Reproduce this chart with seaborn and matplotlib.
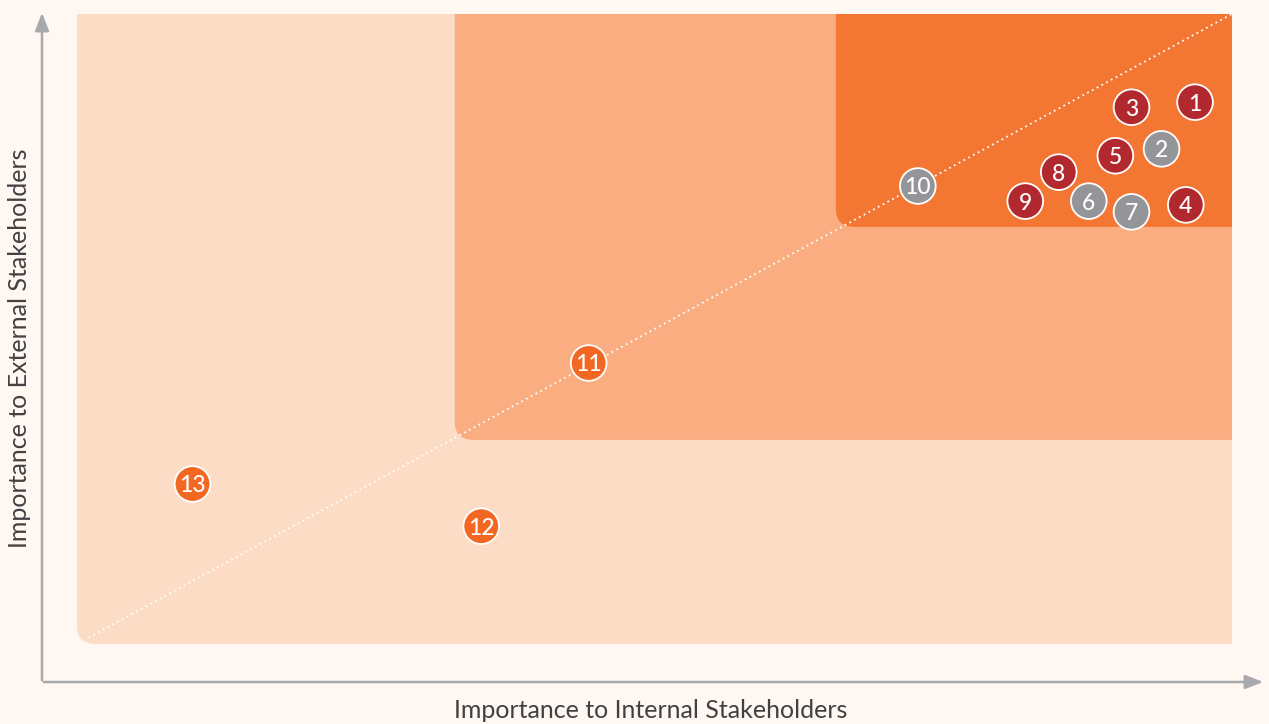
import pandas as pd
import matplotlib.pyplot as plt
import seaborn as sns
from matplotlib.patches import FancyBboxPatch

# Topic data (0-100 scale on each axis)
labels = ["1", "2", "3", "4", "5", "6", "7", "8", "9", "10", "11", "12", "13"]
internal = [96.8, 93.9, 91.3, 96.0, 89.9, 87.6, 91.3, 85.0, 82.1, 72.8, 44.3, 35.0, 10.0]
external = [86.0, 78.6, 85.2, 69.7, 77.5, 70.3, 68.6, 74.9, 70.3, 72.7, 44.6, 18.7, 25.4]
group = ["red", "grey", "red", "red", "red", "grey", "grey", "red", "red", "grey",
         "orange", "orange", "orange"]

# Zone lower-left corners (outer, middle, inner)
zone_x = [0, 32.7, 65.7]
zone_y = [0, 32.4, 66.2]
zone_colors = ["#FCDCC5", "#F9AD80", "#F37733"]

palette = {"red": "#B2282F", "grey": "#939598", "orange": "#F26722"}
bg = "#FEF7F2"

df = pd.DataFrame({"label": labels, "internal": internal,
                   "external": external, "group": group})

sns.set_theme(style="white")
plt.rcParams["font.family"] = ["Lato", "DejaVu Sans"]

fig = plt.figure(figsize=(12.69, 7.24), dpi=100)
fig.patch.set_facecolor(bg)
W, H = 1269, 724
ax = fig.add_axes([77 / W, (H - 644) / H, 1155 / W, 630 / H])
ax.set_facecolor(bg)
ax.set_xlim(0, 100)
ax.set_ylim(0, 100)
ax.axis("off")

# nested zones, only the lower-left corner is rounded (rest is clipped)
for x0, y0, c in zip(zone_x, zone_y, zone_colors):
    box = FancyBboxPatch((x0, y0), 150 - x0, 150 - y0,
                         boxstyle="round,pad=0,rounding_size=1.6",
                         facecolor=c, edgecolor="none", zorder=1,
                         mutation_aspect=1155 / 630)
    box.set_clip_on(True)
    ax.add_patch(box)

# dotted diagonal
ax.plot([1, 100], [1, 100], color="white", linestyle=(0, (1, 2)), lw=1.3, zorder=2)

sns.scatterplot(data=df, x="internal", y="external", hue="group", palette=palette,
                s=660, edgecolor="white", linewidth=1.3, legend=False, ax=ax,
                zorder=3, clip_on=False)

for lab, x, y in zip(labels, internal, external):
    ax.text(x, y - 0.3, lab, color="white", fontsize=16.5, fontweight="medium",
            ha="center", va="center", zorder=4)

# axis arrows
arrow = dict(arrowstyle="-|>,head_length=0.9,head_width=0.35", color="#A7A9AC", lw=1.8)
ax.annotate("", xy=(42, H - 10), xytext=(42, H - 683), xycoords="figure pixels",
            textcoords="figure pixels", arrowprops=arrow, annotation_clip=False)
ax.annotate("", xy=(1266, H - 682), xytext=(41, H - 682), xycoords="figure pixels",
            textcoords="figure pixels", arrowprops=arrow, annotation_clip=False)

fig.text(651 / W, 1 - 711 / H, "Importance to Internal Stakeholders", ha="center",
         va="center", fontsize=18, color="#414042")
fig.text(20 / W, 1 - 348 / H, "Importance to External Stakeholders", ha="center",
         va="center", fontsize=18, color="#414042", rotation=90)

fig.savefig("out.png", dpi=100, facecolor=bg)
